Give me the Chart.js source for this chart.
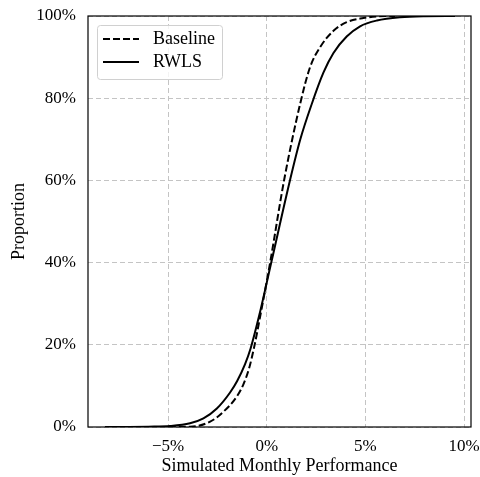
<!DOCTYPE html>
<html>
<head>
<meta charset="utf-8">
<script src="https://cdn.jsdelivr.net/npm/chart.js@4"></script>
<style>
  html, body { margin: 0; padding: 0; background: #fff; }
  #wrap { width: 480px; height: 477px; }
</style>
</head>
<body>
<div id="wrap"><canvas id="cdf" width="480" height="477"></canvas></div>
<script>
// (x in %, y = cumulative proportion in %)
const seriesNames = ['Baseline', 'RWLS']

const baselineX = [-7.5, -6.0, -5.0, -3.89, -2.87, -2.2, -1.52, -1.2, -0.9, -0.65, -0.3, 0.17, 0.88, 1.69, 2.19, 2.7, 3.38, 4.05, 4.9, 5.58, 6.5]
const baselineY = [0, 0.01, 0.03, 0.07, 1.3, 3.7, 7.4, 10.2, 14.2, 19.2, 27.8, 40.0, 60.1, 78.6, 87.5, 92.4, 96.4, 98.5, 99.5, 99.9, 100]

const rwlsX = [-8.2, -7.0, -6.0, -4.9, -3.89, -3.21, -2.53, -1.86, -1.5, -1.1, -0.82, -0.4, 0.25, 1.18, 1.7, 2.28, 2.87, 3.38, 4.05, 4.73, 5.58, 6.76, 8.0, 9.55]
const rwlsY = [0, 0.02, 0.08, 0.24, 0.9, 2.1, 4.5, 8.4, 11.2, 15.3, 19.1, 26.8, 40.5, 60.1, 70.0, 78.6, 86.2, 91.0, 95.0, 97.5, 98.9, 99.7, 99.95, 100]

const xTicks = [-5, 0, 5, 10]
const yTicks = [0, 20, 40, 60, 80, 100]

const xMin = -9.06
const xMax = 10.35

const FONT = 'Liberation Serif'

function pts (xs, ys) {
  return xs.map((x, i) => ({ x: x, y: ys[i] }))
}

function pct (v) {
  return (v < 0 ? '\u2212' + Math.abs(v) : v) + '%'
}

// full black frame around the plot area
const frame = {
  id: 'frame',
  afterDraw (chart) {
    const a = chart.chartArea
    const c = chart.ctx
    c.save()
    c.strokeStyle = '#000'
    c.lineWidth = 1.2
    c.strokeRect(a.left, a.top, a.right - a.left, a.bottom - a.top)
    c.restore()
  }
}

// matplotlib-style legend box in the upper left corner
const boxLegend = {
  id: 'boxLegend',
  afterDraw (chart) {
    const a = chart.chartArea
    const c = chart.ctx
    const x0 = a.left + 9
    const y0 = a.top + 9
    const w = 125
    const h = 54
    c.save()
    c.fillStyle = 'rgba(255,255,255,0.8)'
    c.strokeStyle = '#d0d0d0'
    c.lineWidth = 1
    c.beginPath()
    c.roundRect(x0 + 0.5, y0 + 0.5, w, h, 3)
    c.fill()
    c.stroke()
    c.font = '18px "' + FONT + '"'
    c.textBaseline = 'middle'
    chart.data.datasets.forEach((ds, i) => {
      const y = y0 + 14 + i * 23
      c.strokeStyle = ds.borderColor
      c.lineWidth = ds.borderWidth
      c.setLineDash(ds.borderDash || [])
      c.beginPath()
      c.moveTo(x0 + 6, y)
      c.lineTo(x0 + 42, y)
      c.stroke()
      c.setLineDash([])
      c.fillStyle = '#000'
      c.fillText(ds.label, x0 + 56, y)
    })
    c.restore()
  }
}

function build () {
  const ctx = document.getElementById('cdf').getContext('2d')

  const chart = new Chart(
    ctx,
    {
      type: 'line',
      data: {
        datasets: [
          {
            label: seriesNames[0],
            data: pts(baselineX, baselineY),
            borderColor: '#000',
            borderWidth: 2,
            borderDash: [7, 3],
            pointRadius: 0,
            cubicInterpolationMode: 'monotone',
            fill: false
          },
          {
            label: seriesNames[1],
            data: pts(rwlsX, rwlsY),
            borderColor: '#000',
            borderWidth: 2,
            pointRadius: 0,
            cubicInterpolationMode: 'monotone',
            fill: false
          }
        ]
      },
      options: {
        responsive: false,
        animation: false,
        layout: {
          padding: { left: 0, right: 9, top: 16, bottom: 0 }
        },
        scales: {
          x: {
            type: 'linear',
            min: xMin,
            max: xMax,
            afterBuildTicks (scale) {
              scale.ticks = xTicks.map(v => ({ value: v }))
            },
            afterFit (scale) {
              scale.height = 50
              scale.paddingLeft = 0
              scale.paddingRight = 0
            },
            grid: {
              color: '#c4c4c4',
              lineWidth: 1,
              drawTicks: false
            },
            border: { display: false, dash: [5, 3] },
            ticks: {
              color: '#000',
              padding: 9,
              maxRotation: 0,
              font: { family: FONT, size: 17 },
              callback: v => pct(v)
            },
            title: {
              display: true,
              text: 'Simulated Monthly Performance',
              color: '#000',
              padding: { top: 0, bottom: 0 },
              font: { family: FONT, size: 18 }
            }
          },
          y: {
            min: 0,
            max: 100,
            afterBuildTicks (scale) {
              scale.ticks = yTicks.map(v => ({ value: v }))
            },
            afterFit (scale) {
              scale.width = 88
              scale.paddingTop = 0
              scale.paddingBottom = 0
            },
            grid: {
              color: '#c4c4c4',
              lineWidth: 1,
              drawTicks: false
            },
            border: { display: false, dash: [5, 3] },
            ticks: {
              color: '#000',
              padding: 12,
              font: { family: FONT, size: 17 },
              callback: v => pct(v)
            },
            title: {
              display: true,
              text: 'Proportion',
              color: '#000',
              padding: { top: 8, bottom: 0 },
              font: { family: FONT, size: 18 }
            }
          }
        },
        plugins: {
          tooltip: { enabled: false },
          legend: { display: false },
          title: { display: false }
        }
      },
      plugins: [frame, boxLegend]
    }
  )
  return chart
}

build()
</script>
</body>
</html>
